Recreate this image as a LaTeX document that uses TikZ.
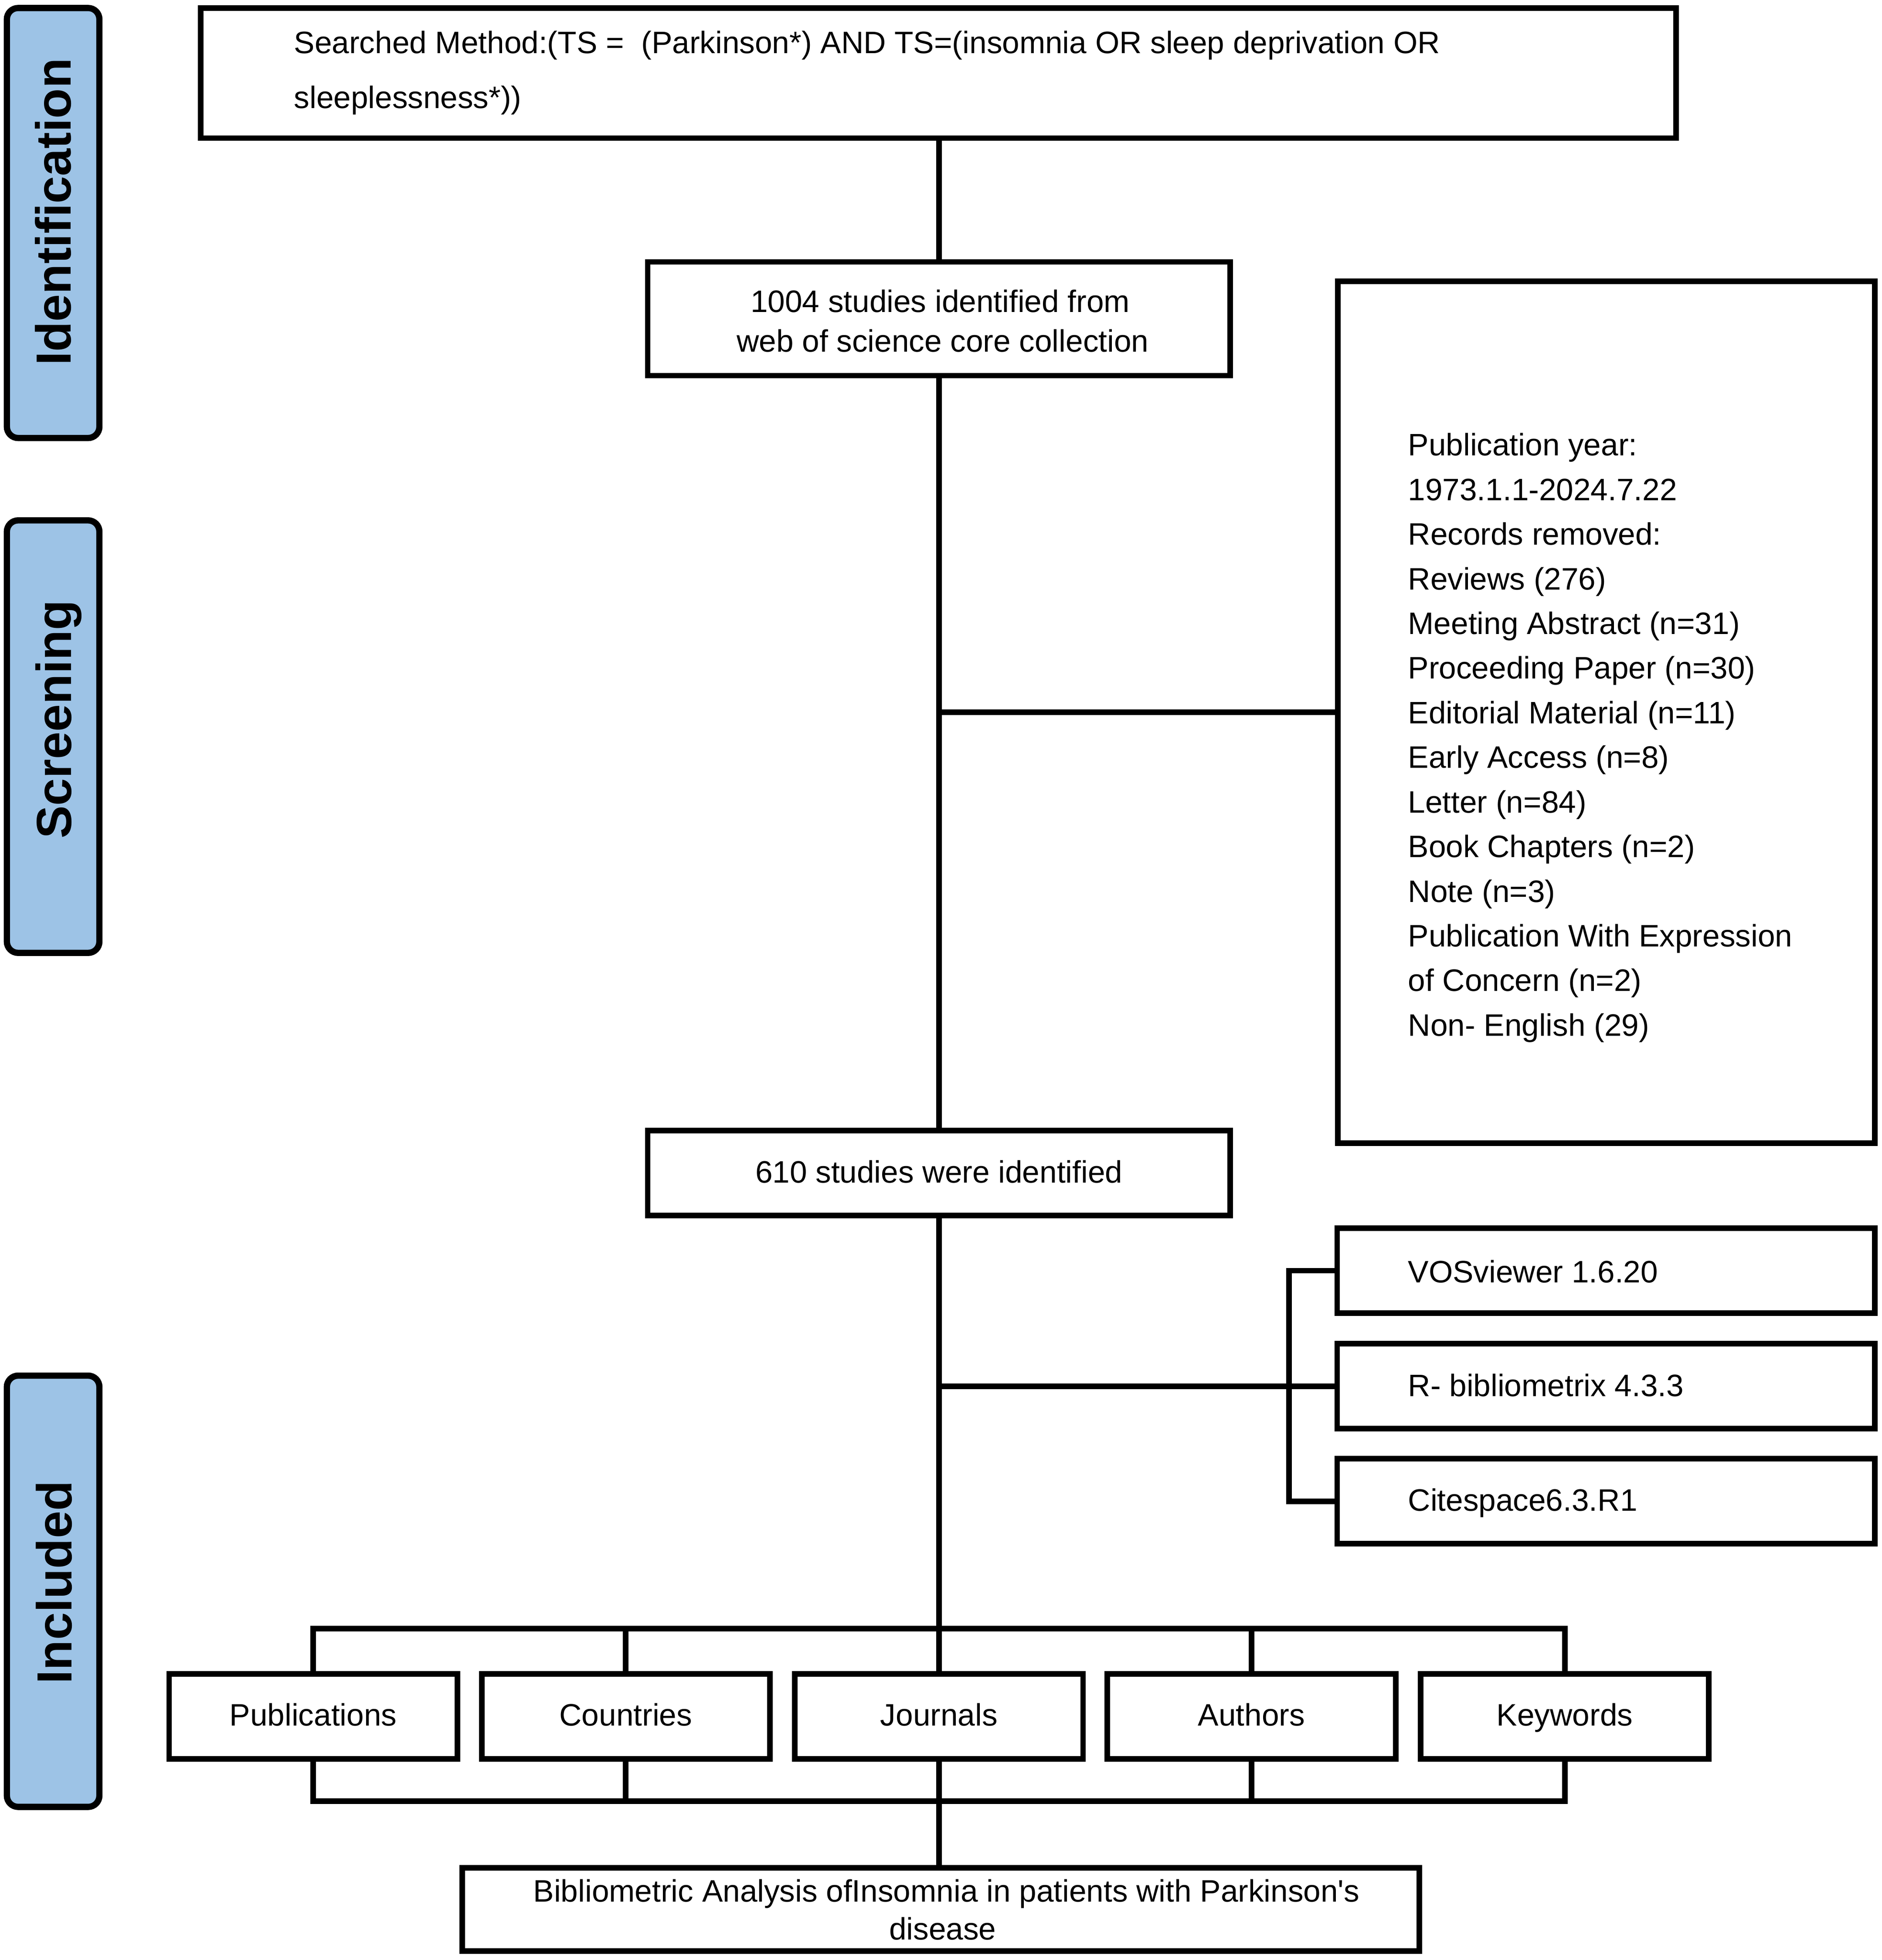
\documentclass[tikz,border=0pt]{standalone}
\usepackage{fontspec}
\setmainfont{Liberation Sans}
\definecolor{labblue}{RGB}{157,195,230}
\newcommand\mainfs{\fontsize{24.8}{30}\selectfont}
\newcommand\labfs{\fontsize{39.5}{45}\selectfont\bfseries}
\begin{document}
\begin{tikzpicture}[x=1pt,y=-1pt,
  box/.style={draw, line width=4.5pt, rectangle, inner sep=0pt, outer sep=0pt, font=\mainfs, text height=0.72em+8pt, text depth=0pt},
  lab/.style={draw, line width=5pt, fill=labblue, rounded corners=9pt, inner sep=0pt, minimum width=74pt},
  labtxt/.style={rotate=90, anchor=base, font=\labfs, inner sep=0pt},
  conn/.style={line width=4.5pt},
  txt/.style={inner sep=0pt, font=\mainfs, text height=0.72em, text depth=0pt, yshift=-5pt}]
\useasboundingbox (0,0) rectangle (1505,1568);

% stage labels
\node[lab, minimum height=344pt] (idbox) at (42.5,178.4) {};
\node[labtxt] (idtxt) at (56.5,169.5) {Identification};
\node[lab, minimum height=346pt] (scbox) at (42.5,589.3) {};
\node[labtxt] (sctxt) at (57,575.5) {Screening};
\node[lab, minimum height=345pt] (inbox) at (42.5,1273) {};
\node[labtxt] (intxt) at (57.5,1266) {Included};

% search box
\node[box, minimum width=1180pt, minimum height=104pt] (search) at (750.5,58.5) {};
\node[txt, anchor=west] (s1) at (235,34) {Searched Method:(TS = \ (Parkinson*) AND TS=(insomnia OR sleep deprivation OR};
\node[txt, anchor=west] (s2) at (235,78) {sleeplessness*))};

% 1004
\node[box, minimum width=466pt, minimum height=91pt] (n1004) at (751,255) {};
\node[txt] (n1004a) at (752,241) {1004 studies identified from};
\node[txt] (n1004b) at (754,273) {web of science core collection};

% exclusion box
\node[box, minimum width=429.5pt, minimum height=689.5pt] (excl) at (1284.75,569.75) {};
\foreach \t [count=\i] in {Publication year:, 1973.1.1-2024.7.22, Records removed:, Reviews (276), Meeting Abstract (n=31), Proceeding Paper (n=30), Editorial Material (n=11), Early Access (n=8), Letter (n=84), Book Chapters (n=2), Note (n=3), Publication With Expression, of Concern (n=2), Non- English (29)}
  \node[txt, anchor=west] (ex\i) at (1126,{356+35.7*(\i-1)}) {\t};

% 610
\node[box, minimum width=466pt, minimum height=68pt] (n610) at (751,938.5) {610 studies were identified};

% tools
\node[box, minimum width=430pt, minimum height=68pt] (vos) at (1284.5,1016.5) {};
\node[box, minimum width=430pt, minimum height=68pt] (rbib) at (1284.5,1109) {};
\node[box, minimum width=430pt, minimum height=68pt] (cite) at (1284.5,1201) {};
\node[txt, anchor=west] (vost) at (1126,1017.5) {VOSviewer 1.6.20};
\node[txt, anchor=west] (rbibt) at (1126,1108.5) {R- bibliometrix 4.3.3};
\node[txt, anchor=west] (citet) at (1126,1200) {Citespace6.3.R1};

% analysis boxes
\node[box, minimum width=230.5pt, minimum height=68pt] (pub) at (250.5,1373) {Publications};
\node[box, minimum width=230.5pt, minimum height=68pt] (cou) at (500.5,1373) {Countries};
\node[box, minimum width=230.5pt, minimum height=68pt] (jou) at (751,1373) {Journals};
\node[box, minimum width=230.5pt, minimum height=68pt] (aut) at (1001,1373) {Authors};
\node[box, minimum width=230.5pt, minimum height=68pt] (key) at (1251.5,1373) {Keywords};

% final
\node[box, minimum width=765.5pt, minimum height=66.5pt] (final) at (752.5,1527.5) {};
\node[txt] (f1) at (757,1513) {Bibliometric Analysis ofInsomnia in patients with Parkinson\textquotesingle s};
\node[txt] (f2) at (754,1543) {disease};

\coordinate (topbar) at (751,1303);
\coordinate (botbar) at (751,1441);

% connectors
\draw[conn] (n1004.north) -- (n1004.north |- search.south);
\draw[conn] (n1004.south) -- (n610.north);
\draw[conn] (n1004.south |- excl.west) -- (excl.west);
\draw[conn] (n610.south) -- (jou.north);
\draw[conn] (rbib.west -| n610.south) -- (rbib.west);
\draw[conn] (vos.west) -- ++(-38.5,0) |- (cite.west);
\draw[conn] (pub.north) -- (pub.north |- topbar) -- (key.north |- topbar) -- (key.north);
\draw[conn] (cou.north) -- (cou.north |- topbar);
\draw[conn] (aut.north) -- (aut.north |- topbar);
\draw[conn] (pub.south) -- (pub.south |- botbar) -- (key.south |- botbar) -- (key.south);
\draw[conn] (cou.south) -- (cou.south |- botbar);
\draw[conn] (aut.south) -- (aut.south |- botbar);
\draw[conn] (jou.south) -- (jou.south |- final.north);
\end{tikzpicture}
\end{document}
